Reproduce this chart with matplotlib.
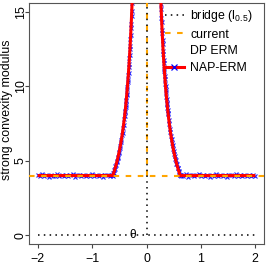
import numpy as np
import matplotlib
matplotlib.use("Agg")
import matplotlib.pyplot as plt
from matplotlib.lines import Line2D

plt.rcParams['font.family'] = ['Liberation Sans', 'DejaVu Sans']
plt.rcParams['mathtext.fontset'] = 'custom'
plt.rcParams['mathtext.rm'] = 'Liberation Sans'
plt.rcParams['mathtext.it'] = 'Liberation Sans:italic'

# ---------------- data ----------------
bridge_level = 0.0
current_level = 4.0

dp_x = [-2.00, -0.62, -0.60, -0.58, -0.56, -0.54, -0.52, -0.50, -0.48, -0.46, -0.44,
        -0.42, -0.40, -0.38, -0.36, -0.34, -0.32, -0.30, -0.28, -0.26, -0.25,
        np.nan,
        0.25, 0.26, 0.28, 0.30, 0.32, 0.34, 0.36, 0.38, 0.40, 0.42, 0.44,
        0.46, 0.48, 0.50, 0.52, 0.54, 0.56, 0.58, 0.60, 0.62, 2.00]
dp_y = [4.00, 4.00, 4.22, 4.45, 4.71, 4.99, 5.30, 5.64, 6.02, 6.45, 6.92,
        7.46, 8.07, 8.76, 9.55, 10.46, 11.52, 12.78, 14.27, 16.07, 17.11,
        np.nan,
        17.11, 16.07, 14.27, 12.78, 11.52, 10.46, 9.55, 8.76, 8.07, 7.46, 6.92,
        6.45, 6.02, 5.64, 5.30, 4.99, 4.71, 4.45, 4.22, 4.00, 4.00]

nap_x = [
    -2.00, -1.96, -1.92, -1.88, -1.84, -1.80, -1.76, -1.72, -1.68, -1.64, -1.60, -1.56,
    -1.52, -1.48, -1.44, -1.40, -1.36, -1.32, -1.28, -1.24, -1.20, -1.16, -1.12, -1.08,
    -1.04, -1.00, -0.96, -0.92, -0.88, -0.84, -0.80, -0.76, -0.72, -0.68, -0.64,
    -0.63, -0.62, -0.61, -0.60, -0.59, -0.58, -0.57, -0.56, -0.55, -0.54, -0.53, -0.52,
    -0.51, -0.50, -0.49, -0.48, -0.47, -0.46, -0.45, -0.44, -0.43, -0.42, -0.41, -0.40,
    -0.395, -0.39, -0.385, -0.38, -0.375, -0.37, -0.365, -0.36, -0.355, -0.35, -0.345,
    -0.34, -0.335, -0.33, -0.325, -0.32, -0.315, -0.31, -0.305, -0.30, -0.295, -0.29,
    -0.285, -0.28, -0.275, -0.27, -0.265, -0.26, -0.255,
    0.255, 0.26, 0.265, 0.27, 0.275, 0.28, 0.285, 0.29, 0.295, 0.30, 0.305, 0.31,
    0.315, 0.32, 0.325, 0.33, 0.335, 0.34, 0.345, 0.35, 0.355, 0.36, 0.365, 0.37,
    0.375, 0.38, 0.385, 0.39, 0.395, 0.40,
    0.41, 0.42, 0.43, 0.44, 0.45, 0.46, 0.47, 0.48, 0.49, 0.50, 0.51, 0.52, 0.53,
    0.54, 0.55, 0.56, 0.57, 0.58, 0.59, 0.60, 0.61, 0.62, 0.63,
    0.64, 0.68, 0.72, 0.76, 0.80, 0.84, 0.88, 0.92, 0.96, 1.00, 1.04, 1.08, 1.12,
    1.16, 1.20, 1.24, 1.28, 1.32, 1.36, 1.40, 1.44, 1.48, 1.52, 1.56, 1.60, 1.64,
    1.68, 1.72, 1.76, 1.80, 1.84, 1.88, 1.92, 1.96, 2.00]
nap_y = [
    4.03, 3.95, 4.08, 3.97, 4.05, 3.93, 4.06, 4.00, 3.96, 4.09, 3.94, 4.04,
    3.98, 4.07, 3.95, 4.02, 4.08, 3.93, 4.01, 4.05, 3.96, 4.06, 3.94, 4.03,
    3.99, 4.08, 3.95, 4.04, 3.97, 4.06, 3.93, 4.02, 4.07, 3.96, 4.01,
    4.02, 3.96, 4.14, 4.19, 4.37, 4.42, 4.62, 4.68, 4.89, 4.95, 5.19, 5.26,
    5.52, 5.60, 5.88, 5.97, 6.28, 6.41, 6.73, 6.88, 7.23, 7.41, 7.80, 8.02,
    8.28, 8.36, 8.62, 8.71, 8.99, 9.09, 9.39, 9.50, 9.81, 9.94, 10.27,
    10.41, 10.76, 10.92, 11.29, 11.47, 11.87, 12.08, 12.50, 12.73, 13.18, 13.44,
    13.92, 14.22, 14.74, 15.08, 15.63, 16.02, 16.63,
    16.50, 16.12, 15.52, 15.18, 14.62, 14.33, 13.80, 13.55, 13.08, 12.84, 12.40, 12.18,
    11.76, 11.57, 11.19, 11.02, 10.66, 10.50, 10.18, 10.03, 9.72, 9.59, 9.30, 9.18,
    8.90, 8.80, 8.53, 8.44, 8.19, 8.11,
    7.71, 7.50, 7.14, 6.96, 6.64, 6.49, 6.19, 6.06, 5.79, 5.68, 5.43, 5.34, 5.10,
    5.03, 4.81, 4.75, 4.54, 4.49, 4.29, 4.26, 4.07, 4.04, 3.97,
    4.05, 3.96, 4.08, 3.93, 4.02, 4.07, 3.95, 4.01, 4.09, 3.94, 4.03, 3.98, 4.06,
    3.92, 4.04, 4.00, 4.08, 3.95, 4.02, 3.97, 4.07, 3.93, 4.05, 4.01, 3.96, 4.09,
    3.94, 4.03, 3.99, 4.06, 3.95, 4.04, 3.98, 4.07, 3.96]

x_ticks = [-2, -1, 0, 1, 2]
y_ticks = [0, 5, 10, 15]
x_range = [-2.0, 2.0]
y_top = 100.0

# ---------------- figure ----------------
fig = plt.figure(figsize=(2.66, 2.64), dpi=100)
ax = fig.add_axes([29/266, 20/264, 235/266, 241/264])

ax.plot(nap_x, nap_y, linestyle='none', marker='x', color='blue',
        ms=3.2, mew=0.8, alpha=0.85, zorder=2)
ax.plot(dp_x, dp_y, color='red', lw=2.2, zorder=3, solid_capstyle='butt')

orange_ls = (0, (2.67, 3.13))
ax.axhline(current_level, color='orange', lw=1.5, linestyle=orange_ls, zorder=4)
ax.plot([0, 0], [current_level, y_top], color='orange', lw=1.5, linestyle=orange_ls, zorder=4)

dot_ls = (0, (1.0, 2.8))
ax.plot(x_range, [bridge_level, bridge_level], color='black', lw=1.1, linestyle=dot_ls, zorder=5)
ax.plot([0, 0], [bridge_level, y_top], color='black', lw=1.1, linestyle=dot_ls, zorder=5)

ax.text(-0.25, 0.0, 'θ', ha='center', va='center', fontsize=8.5, zorder=6)

ax.set_xlim(-2.16, 2.16)
ax.set_ylim(-0.6, 15.6)
ax.set_xticks(x_ticks)
ax.set_yticks(y_ticks)
ax.set_xticklabels(['\u22122', '\u22121', '0', '1', '2'])
ax.tick_params(axis='both', direction='out', length=3, width=0.8, color='#444444',
               labelsize=8.9)
ax.tick_params(axis='x', pad=3.5)
ax.tick_params(axis='y', pad=0.8)
for lab in ax.get_yticklabels():
    lab.set_rotation(90)
    lab.set_rotation_mode('anchor')
    lab.set_ha('center')
    lab.set_va('baseline')
for sp in ax.spines.values():
    sp.set_color('#555555')
    sp.set_linewidth(0.8)

ax.set_ylabel('strong convexity modulus', fontsize=8.9)
ax.yaxis.set_label_coords(-0.068, 0.556)

handles = [
    Line2D([], [], color='black', lw=1.1, linestyle=dot_ls),
    Line2D([], [], color='orange', lw=1.5, linestyle=orange_ls),
    Line2D([], [], linestyle='none'),
    (Line2D([], [], color='red', lw=2.2),
     Line2D([], [], color='blue', marker='x', linestyle='none', ms=3.8, mew=0.9)),
]
labels = [r'bridge (l$_{0.5}$)', 'current', 'DP ERM', 'NAP-ERM']
ax.legend(handles, labels, loc='upper left', bbox_to_anchor=((165-29)/235, 1 - 5/241),
          frameon=False, fontsize=8.9, handlelength=1.5, handletextpad=0.55,
          labelspacing=0.38, borderpad=0, borderaxespad=0, numpoints=1)

fig.savefig('out.png', dpi=100)
